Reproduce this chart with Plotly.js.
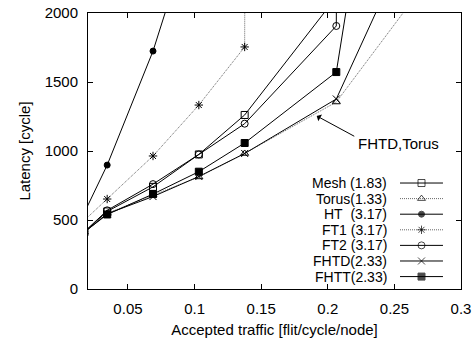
<!DOCTYPE html>
<html><head><meta charset="utf-8">
<script src="https://cdn.plot.ly/plotly-3.0.1.min.js"></script>
<style>html,body{margin:0;padding:0;background:#fff}#c{width:475px;height:340px}</style>
</head><body><div id="c"></div>
<script>
// Data (accepted traffic [flit/cycle/node], latency [cycle])
const meshX  = [0.0172, 0.0344, 0.0688, 0.1032, 0.1376, 0.2064];
const meshY  = [413, 562, 740, 975, 1261, 2115];
const torusX = [0.0172, 0.0344, 0.0688, 0.1032, 0.1376, 0.2064, 0.2600];
const torusY = [412, 548, 680, 812, 982, 1355, 2045];
const htX    = [0.0172, 0.0344, 0.0688, 0.0805];
const htY    = [552, 898, 1724, 2080];
const ft1X   = [0.0172, 0.0344, 0.0688, 0.1032, 0.1376, 0.1378];
const ft1Y   = [497, 652, 964, 1333, 1754, 2600];
const ft2X   = [0.0172, 0.0344, 0.0688, 0.1032, 0.1376, 0.2064, 0.2066];
const ft2Y   = [414, 570, 760, 975, 1198, 1906, 2600];
const fhtdX  = [0.0172, 0.0344, 0.0688, 0.1032, 0.1376, 0.2064, 0.2400];
const fhtdY  = [412, 545, 670, 815, 982, 1377, 2085];
const fhttX  = [0.0172, 0.0344, 0.0688, 0.1032, 0.1376, 0.2064, 0.2155];
const fhttY  = [412, 540, 688, 850, 1058, 1572, 2120];

const names   = ["Mesh (1.83)", "Torus(1.33)", "HT\u00a0\u00a0(3.17)", "FT1 (3.17)", "FT2 (3.17)", "FHTD(2.33)", "FHTT(2.33)"];
const xs = [meshX, torusX, htX, ft1X, ft2X, fhtdX, fhttX];
const ys = [meshY, torusY, htY, ft1Y, ft2Y, fhtdY, fhttY];

const xTickVals = [0.05, 0.1, 0.15, 0.2, 0.25, 0.3];
const yTickVals = [0, 500, 1000, 1500, 2000];

// styles
const symbols = ["square-open", "triangle-up-open", "circle", "asterisk-open", "circle-open", "x-thin-open", "square"];
const sizes   = [7, 7, 6, 7, 7, 7, 7];
const dashes  = ["solid", "1px,1px", "solid", "1px,1px", "solid", "solid", "solid"];
const lcolors = ["#000", "#666", "#000", "#666", "#000", "#000", "#000"];

const traces = [];
for (let i = 0; i < names.length; i++) {
  traces.push({
    x: xs[i], y: ys[i], type: "scatter", mode: "lines+markers", name: names[i],
    showlegend: false, cliponaxis: true,
    line: {color: lcolors[i], width: 1, dash: dashes[i]},
    marker: {symbol: symbols[i], size: sizes[i], color: "#000", line: {color: "#000", width: 1}}
  });
}

// custom legend (text left, sample right) on an overlay axis in plot-fraction units
const legX0 = 0.8365, legX1 = 0.9517, legTop = 0.384, legStep = 0.0565, legTextX = 0.805;
const annotations = [];
for (let i = 0; i < names.length; i++) {
  const yy = legTop - i * legStep;
  traces.push({
    x: [legX0, (legX0 + legX1) / 2, legX1], y: [yy, yy, yy], xaxis: "x2", yaxis: "y2",
    type: "scatter", mode: "lines+markers", showlegend: false, hoverinfo: "skip",
    line: {color: lcolors[i], width: 1, dash: dashes[i]},
    marker: {symbol: symbols[i], size: [0, sizes[i], 0], color: "#000", line: {color: "#000", width: 1}}
  });
  annotations.push({
    xref: "paper", yref: "paper", x: legTextX, y: yy, xanchor: "right", yanchor: "middle",
    text: names[i], showarrow: false, borderpad: 0, font: {size: 14, color: "#000"}
  });
}

annotations.push({
  xref: "x", yref: "y", x: 0.1917, y: 1254, axref: "x", ayref: "y", ax: 0.221, ay: 1101,
  text: "", showarrow: true, arrowhead: 1, arrowsize: 1.3, arrowwidth: 1, arrowcolor: "#000"
});
annotations.push({
  xref: "x", yref: "y", x: 0.2215, y: 1051, xanchor: "left", yanchor: "middle",
  text: "FHTD,Torus", showarrow: false, font: {size: 15, color: "#000"}
});

const axisCommon = {
  showline: true, mirror: "ticks", linecolor: "#000", linewidth: 1,
  ticks: "inside", ticklen: 5, tickcolor: "#000", tickwidth: 1,
  showgrid: false, zeroline: false, tickfont: {size: 15, color: "#000"}
};

const layout = {
  width: 475, height: 340,
  margin: {l: 88, r: 14, t: 13, b: 51},
  paper_bgcolor: "#fff", plot_bgcolor: "#fff",
  font: {family: "Liberation Sans, Arial, sans-serif", color: "#000"},
  xaxis: Object.assign({}, axisCommon, {
    range: [0.02, 0.3], tickvals: xTickVals, ticklabelstandoff: 6,
    title: {text: "Accepted traffic [flit/cycle/node]", font: {size: 15}, standoff: 8}
  }),
  yaxis: Object.assign({}, axisCommon, {
    range: [0, 2000], tickvals: yTickVals, ticklabelstandoff: 6,
    title: {text: "Latency [cycle]", font: {size: 15}, standoff: 10}
  }),
  xaxis2: {overlaying: "x", anchor: "y2", range: [0, 1], visible: false, fixedrange: true},
  yaxis2: {overlaying: "y", anchor: "x2", range: [0, 1], visible: false, fixedrange: true},
  annotations: annotations,
  showlegend: false
};

Plotly.newPlot("c", traces, layout, {displayModeBar: false, staticPlot: true});
</script>
</body></html>
